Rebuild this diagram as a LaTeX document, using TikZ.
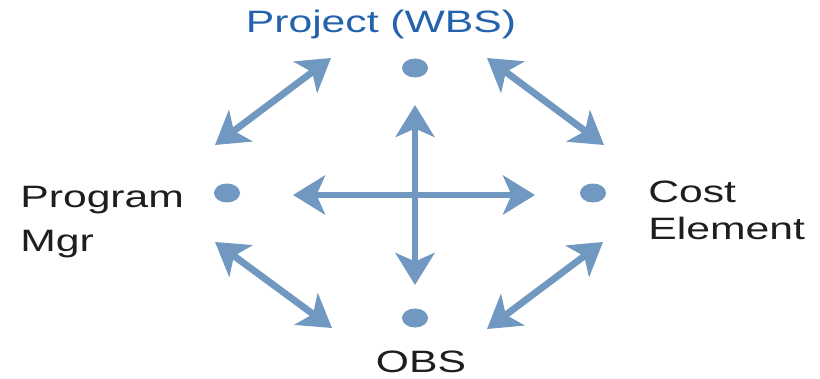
\documentclass[tikz,border=0pt]{standalone}
\usepackage{fontspec}
\setmainfont{Liberation Sans}
\usetikzlibrary{arrows.meta,shapes.geometric}
\definecolor{steel}{RGB}{112,152,192}
\definecolor{wbsblue}{RGB}{35,98,172}
\definecolor{ink}{RGB}{30,30,30}
\newcommand{\stretchtxt}[1]{\scalebox{1.38}[1]{#1}}
\begin{document}
\begin{tikzpicture}[x=0.02cm, y=-0.02cm, line join=round,
		>={Stealth[length=0.64cm, width=0.78cm, inset=0.17cm]},
		link/.style={<->, draw=steel, line width=3.9pt},
		dot/.style={ellipse, fill=steel, inner sep=0pt, minimum width=0.52cm, minimum height=0.38cm},
		lbl/.style={inner sep=0pt, text=ink}]
	\useasboundingbox (0,0) rectangle (820,378);
	% the four dots
	\node[dot] (wbs) at (415,68) {};
	\node[dot] (pm) at (227,193) {};
	\node[dot] (ce) at (593,193) {};
	\node[dot] (obs) at (415,318) {};
	% labels
	\node[lbl, text=wbsblue, anchor=base, font=\fontsize{17.6}{21}\selectfont] (wbs-l) at (381,33) {\stretchtxt{Project (WBS)}};
	\node[lbl, anchor=base west, font=\fontsize{17.6}{25.6}\selectfont] (pm-l) at (20,207)
		{\stretchtxt{\begin{tabular}[t]{@{}l@{}}Program\\Mgr\end{tabular}}};
	\node[lbl, anchor=base west, font=\fontsize{17.6}{21.6}\selectfont] (ce-l) at (648,202)
		{\stretchtxt{\begin{tabular}[t]{@{}l@{}}Cost\\Element\end{tabular}}};
	\node[lbl, anchor=base, font=\fontsize{17.6}{21}\selectfont] (obs-l) at (421,372) {\stretchtxt{OBS}};
	% arrow ends
	\path
	(215,145) coordinate (pw1)
	(331,58) coordinate (pw2)
	(487,58) coordinate (wc1)
	(604,145) coordinate (wc2)
	(215,242) coordinate (po1)
	(332,328) coordinate (po2)
	(487,329) coordinate (oc1)
	(603,242) coordinate (oc2)
	(415,105) coordinate (v1)
	(415,285) coordinate (v2)
	(293,195) coordinate (h1)
	(535,195) coordinate (h2)
	;
	\foreach \a/\b in {pw1/pw2,wc1/wc2,po1/po2,oc1/oc2,v1/v2,h1/h2}
	\draw[link] (\a)--(\b);
\end{tikzpicture}
\end{document}
